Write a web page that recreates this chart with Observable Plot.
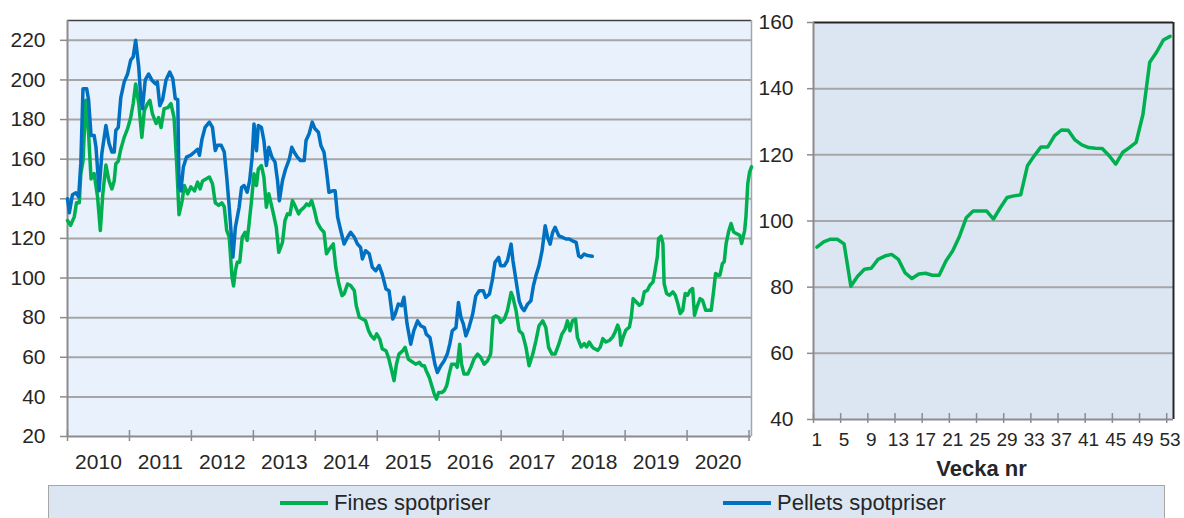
<!DOCTYPE html>
<html>
<head>
<meta charset="utf-8">
<script src="https://cdn.jsdelivr.net/npm/d3@7"></script>
<script src="https://cdn.jsdelivr.net/npm/@observablehq/plot@0.6"></script>
<style>
  html, body { margin: 0; padding: 0; background: #ffffff; }
  #wrap { position: relative; width: 1184px; height: 518px; overflow: hidden; font-family: "Liberation Sans", Arial, sans-serif; color: #262626; }
  #left { position: absolute; left: 0; top: 0; }
  #right { position: absolute; left: 755px; top: 0; }
  #legend { position: absolute; left: 48px; top: 485px; width: 1117px; height: 44px; background: #dce6f2; border: 1.5px solid #a6a6a6; box-sizing: border-box; display: flex; align-items: flex-start; }
  .item { display: flex; align-items: center; height: 34px; font-size: 22px; }
  .swatch { width: 48px; height: 4px; margin-right: 6px; }
  svg { display: block; }
</style>
</head>
<body>
<div id="wrap">
  <div id="left"></div>
  <div id="right"></div>
  <div id="legend"></div>
</div>
<script>
// ---------- data ----------
const seriesNames = ["Fines spotpriser", "Pellets spotpriser"];
const seriesColors = ["#00b050", "#0070c0"];

const fineYears = [2010.00,2010.05,2010.11,2010.145,2010.19,2010.215,2010.25,2010.295,2010.34,2010.38,2010.43,2010.485,2010.53,2010.57,2010.62,2010.67,2010.716,2010.754,2010.78,2010.82,2010.86,2010.915,2010.97,2011.02,2011.06,2011.10,2011.15,2011.20,2011.24,2011.29,2011.33,2011.37,2011.43,2011.47,2011.51,2011.56,2011.62,2011.67,2011.72,2011.76,2011.80,2011.85,2011.885,2011.94,2011.99,2012.05,2012.10,2012.14,2012.18,2012.235,2012.29,2012.34,2012.385,2012.44,2012.49,2012.53,2012.57,2012.61,2012.655,2012.68,2012.71,2012.74,2012.78,2012.82,2012.865,2012.90,2012.93,2012.97,2013.01,2013.05,2013.08,2013.13,2013.17,2013.21,2013.25,2013.30,2013.33,2013.37,2013.41,2013.47,2013.51,2013.55,2013.59,2013.63,2013.67,2013.73,2013.76,2013.82,2013.86,2013.90,2013.94,2013.98,2014.03,2014.09,2014.14,2014.18,2014.23,2014.29,2014.33,2014.38,2014.43,2014.465,2014.52,2014.57,2014.63,2014.66,2014.71,2014.76,2014.81,2014.86,2014.90,2014.95,2014.99,2015.04,2015.08,2015.14,2015.18,2015.22,2015.27,2015.31,2015.35,2015.41,2015.45,2015.50,2015.54,2015.58,2015.62,2015.68,2015.72,2015.76,2015.79,2015.84,2015.88,2015.92,2015.955,2015.99,2016.04,2016.08,2016.12,2016.16,2016.20,2016.26,2016.29,2016.33,2016.36,2016.40,2016.46,2016.51,2016.56,2016.62,2016.67,2016.725,2016.78,2016.83,2016.87,2016.91,2016.96,2016.99,2017.05,2017.10,2017.16,2017.19,2017.24,2017.29,2017.345,2017.40,2017.45,2017.51,2017.56,2017.61,2017.67,2017.72,2017.765,2017.82,2017.87,2017.93,2017.98,2018.03,2018.07,2018.11,2018.15,2018.20,2018.23,2018.29,2018.34,2018.38,2018.42,2018.47,2018.50,2018.56,2018.60,2018.64,2018.69,2018.75,2018.80,2018.84,2018.88,2018.91,2018.93,2018.97,2019.01,2019.07,2019.10,2019.13,2019.18,2019.23,2019.27,2019.31,2019.36,2019.40,2019.45,2019.48,2019.52,2019.54,2019.58,2019.61,2019.63,2019.67,2019.715,2019.77,2019.81,2019.85,2019.89,2019.93,2019.97,2020.01,2020.05,2020.09,2020.12,2020.16,2020.21,2020.25,2020.30,2020.35,2020.39,2020.43,2020.46,2020.50,2020.53,2020.57,2020.60,2020.63,2020.67,2020.71,2020.75,2020.79,2020.85,2020.88,2020.93,2020.95,2020.98,2021.01,2021.04];
const fineValues = [129,126.6,131,138,138,152.7,159,189.7,173,150,152.7,141,124,142.5,157,149,145,149,157.7,159,165,171,175.4,181,188,198,188,171,184.6,188,189.7,183,178,181,176,185.5,186,188,181,159,132,139,146.7,142.5,146,144,148.4,145,149,150,151,147.6,138,136.7,138,136,124,120.7,100.5,96,103.7,108,108,120.6,123.1,119,127.3,139.1,152.6,146.7,155.1,156.8,150.9,135.7,142.5,135.7,131.5,125.6,113,118,129,132.4,132,139.1,136.6,132.4,134,135.7,137.4,136.6,139.1,134.9,128.1,124.8,123.1,112.2,114.7,117.2,105.4,97,91.1,92,97,96.2,93.6,86.1,80.2,79.3,78.5,73.4,70.9,69.2,71.8,69.2,64.2,63.3,60,54.9,48.2,56.6,61.6,63.3,65,59.1,58.2,57.4,56.5,57.4,55.7,55.7,53.2,49.8,45.6,41.4,38.9,42.2,42.2,43.1,45.6,51.5,56.5,56.5,54.9,66.6,56.5,51.5,51.5,54.9,59.1,61.6,59.9,56.5,58.2,61.6,80.1,80.9,80.1,77.6,79.3,83.5,92.7,90.2,83.5,73.4,71.7,65,55.7,61.6,68.3,75.9,78.4,75,65,61.6,61.6,66.6,71.7,74.2,78.4,73.4,78.4,79.3,70,65.2,66.9,65.2,67.7,65.2,64.4,63.5,65.2,69.4,67.7,68.6,70.3,72.8,76.2,73.6,66.1,70.3,73.6,75.3,80.4,89.6,87.9,86.3,87.1,93,93.8,96.4,98,103.1,110.7,119.9,121.1,117.4,97.2,92.2,91.3,93,91.3,87.1,82.1,83.7,92.2,91.3,93.8,94.7,81.2,85.4,89.6,88.8,83.7,83.7,83.7,93.8,102.3,101.4,101.4,107.3,108.2,117.4,123.3,127.5,123.3,122.5,121.6,117.4,124.1,130.9,147.7,153.6,156.1];

const pelletYears = [2010.00,2010.03,2010.08,2010.135,2010.18,2010.215,2010.25,2010.31,2010.34,2010.38,2010.43,2010.46,2010.51,2010.555,2010.62,2010.67,2010.716,2010.754,2010.78,2010.82,2010.86,2010.915,2010.97,2011.02,2011.06,2011.10,2011.15,2011.185,2011.21,2011.255,2011.31,2011.36,2011.42,2011.45,2011.49,2011.535,2011.59,2011.65,2011.70,2011.74,2011.78,2011.80,2011.83,2011.87,2011.92,2011.99,2012.05,2012.10,2012.13,2012.17,2012.22,2012.29,2012.34,2012.385,2012.42,2012.48,2012.53,2012.57,2012.61,2012.67,2012.71,2012.77,2012.81,2012.85,2012.90,2012.94,2012.98,2013.01,2013.05,2013.08,2013.13,2013.17,2013.21,2013.25,2013.30,2013.35,2013.39,2013.42,2013.47,2013.52,2013.58,2013.62,2013.66,2013.71,2013.76,2013.82,2013.85,2013.90,2013.95,2013.995,2014.05,2014.09,2014.14,2014.18,2014.22,2014.28,2014.32,2014.36,2014.41,2014.465,2014.52,2014.57,2014.63,2014.68,2014.73,2014.76,2014.81,2014.87,2014.92,2014.975,2015.03,2015.08,2015.14,2015.19,2015.25,2015.29,2015.34,2015.39,2015.43,2015.48,2015.54,2015.59,2015.65,2015.70,2015.76,2015.79,2015.85,2015.89,2015.93,2015.97,2016.025,2016.08,2016.13,2016.17,2016.21,2016.27,2016.31,2016.35,2016.39,2016.43,2016.48,2016.54,2016.59,2016.645,2016.71,2016.75,2016.81,2016.86,2016.90,2016.96,2016.99,2017.05,2017.10,2017.16,2017.19,2017.24,2017.29,2017.33,2017.37,2017.425,2017.48,2017.52,2017.56,2017.61,2017.66,2017.71,2017.75,2017.79,2017.83,2017.87,2017.93,2017.99,2018.045,2018.10,2018.15,2018.21,2018.25,2018.29,2018.34,2018.38,2018.42,2018.47];
const pelletValues = [140,133,142,143,141,158,195.5,195.5,190,172,172,166,144,163,177,168,163.6,163.6,174.5,176,191,199,203,210,211.6,220,206.5,190,185.5,200,203,200,198,199,187,190,200,204,200.6,190.5,190,146,144,156,161,162,163.6,165,162,170,176,178.7,176,164.4,167,167,163.6,151,136,110.6,125.7,135.7,145.8,146.7,143.3,149.2,161,177.8,164.3,177,176,169.4,156.8,166,161,158.5,149.2,139,149.2,155,160,166,163.5,161,159.3,159.3,169.4,172.8,178.7,175.3,173.6,166.9,163.5,154.2,143.3,144,144,130.7,124,117.2,120.6,123.1,120.6,117.2,115.5,109.6,113.8,112.2,105.4,103.7,106.3,102,94.5,93.6,79.3,81.9,86.9,86,90.3,77,66.6,73.4,78.4,75.9,75,71.7,70,63.3,56.5,52.3,55.7,58.2,61.6,66.6,73.4,75,87.7,80.1,76.7,70.8,75,81.8,91,93.6,93.6,90.2,91.9,99.5,107.9,110.4,106.2,106.2,108.7,117.1,108.7,98.6,88.5,85.2,83.5,86.8,88.5,96.1,101.1,106.2,113.8,126.4,120.5,117.1,123,125.6,121.3,120.5,119.7,119.7,118.8,118,111.2,110.4,112.1,111.5,111.2,111];

const weekNumbers = d3.range(1, 54);
const weekValues = [92.1,93.7,94.5,94.5,93.1,80.3,83.3,85.4,85.7,88.4,89.4,89.9,88.4,84.3,82.6,84.0,84.2,83.6,83.6,87.9,91.0,95.4,101.0,103.0,103.0,103.0,100.6,104.0,107.1,107.6,107.9,116.7,119.7,122.4,122.4,125.8,127.5,127.4,124.5,123.0,122.2,122.0,121.9,119.8,117.2,120.7,122.2,123.8,132.2,148.0,151.0,154.7,155.8];

const leftYTicks = [20,40,60,80,100,120,140,160,180,200,220];
const yearBoundaries = [2010,2011,2012,2013,2014,2015,2016,2017,2018,2019,2020,2021];
const yearLabels = ["2010","2011","2012","2013","2014","2015","2016","2017","2018","2019","2020"];
const rightYTicks = [40,60,80,100,120,140,160];
const weekLabelTicks = [1,5,9,13,17,21,25,29,33,37,41,45,49,53];
const xAxisTitle = "Vecka nr";

// ---------- build tables ----------
const fines = fineYears.map((x, i) => ({x, y: fineValues[i]}));
const pellets = pelletYears.map((x, i) => ({x, y: pelletValues[i]}));
const weekly = weekNumbers.map((w, i) => ({w, y: weekValues[i]}));

const font = "Liberation Sans, Arial, sans-serif";
const gridColor = "#a6a6a6";
const axisColor = "#8c8c8c";
const textColor = "#262626";
const xMaxLeft = 2021.04;

const left = Plot.plot({
  width: 755, height: 480,
  marginLeft: 67, marginRight: 4, marginTop: 20, marginBottom: 44,
  x: {domain: [2010, xMaxLeft]},
  y: {domain: [20, 230]},
  style: {fontFamily: font, fontSize: "21px", color: textColor, background: "transparent", overflow: "visible"},
  marks: [
    Plot.frame({fill: "#e8f1fc", stroke: null}),
    Plot.gridY(leftYTicks.slice(1), {stroke: gridColor, strokeOpacity: 1, strokeWidth: 2}),
    Plot.ruleY([230], {stroke: "#404040", strokeWidth: 1.5}),
    Plot.ruleX([xMaxLeft], {stroke: gridColor, strokeWidth: 1.5}),
    Plot.ruleX([2010], {stroke: axisColor, strokeWidth: 2}),
    Plot.ruleY([20], {stroke: axisColor, strokeWidth: 2}),
    Plot.axisY(leftYTicks, {tickSize: 7, tickPadding: 15, stroke: axisColor, strokeWidth: 1.5, fill: textColor, label: null}),
    Plot.axisX(yearBoundaries, {tickSize: 11, dy: -6, tickFormat: () => "", stroke: axisColor, strokeWidth: 1.5, label: null}),
    Plot.axisX(yearLabels.map(s => +s + 0.5), {tickSize: 0, tickPadding: 18, tickFormat: d => String(Math.floor(d)), fill: textColor, label: null}),
    Plot.line(fines, {x: "x", y: "y", stroke: seriesColors[0], strokeWidth: 3.5, strokeLinejoin: "round"}),
    Plot.line(pellets, {x: "x", y: "y", stroke: seriesColors[1], strokeWidth: 3.5, strokeLinejoin: "round"})
  ]
});
document.getElementById("left").appendChild(left);

const right = Plot.plot({
  width: 429, height: 480,
  marginLeft: 58, marginRight: 11, marginTop: 22, marginBottom: 61,
  x: {domain: [0.5, 53.5]},
  y: {domain: [40, 160]},
  style: {fontFamily: font, fontSize: "21px", color: textColor, background: "transparent", overflow: "visible"},
  marks: [
    Plot.frame({fill: "#dce6f2", stroke: null}),
    Plot.gridY(rightYTicks.slice(1, -1), {stroke: gridColor, strokeOpacity: 1, strokeWidth: 2}),
    Plot.ruleY([160], {stroke: "#262626", strokeWidth: 2}),
    Plot.ruleX([53.5], {stroke: "#262626", strokeWidth: 2}),
    Plot.ruleX([0.5], {stroke: axisColor, strokeWidth: 2}),
    Plot.ruleY([40], {stroke: axisColor, strokeWidth: 2}),
    Plot.axisY(rightYTicks, {tickSize: 6, tickPadding: 14, stroke: axisColor, strokeWidth: 1.5, fill: textColor, label: null}),
    Plot.axisX(weekLabelTicks.map(w => w - 0.5), {tickSize: 10, dy: -6, tickFormat: () => "", stroke: axisColor, strokeWidth: 1.5, label: null}),
    Plot.axisX(weekLabelTicks, {tickSize: 0, tickPadding: 13, fontSize: 19, fill: textColor, label: null}),
    Plot.text([xAxisTitle], {frameAnchor: "bottom", dy: 56, dx: -12, fontWeight: "bold", fontSize: 22, fill: textColor}),
    Plot.line(weekly, {x: "w", y: "y", stroke: seriesColors[0], strokeWidth: 3.5, strokeLinejoin: "round"})
  ]
});
document.getElementById("right").appendChild(right);

// ---------- legend ----------
const legend = document.getElementById("legend");
const itemOffsets = ["231px", "0px"];
const itemWidths = ["443px", "auto"];
seriesNames.forEach((name, i) => {
  const item = document.createElement("div");
  item.className = "item";
  item.style.marginLeft = itemOffsets[i];
  item.style.width = itemWidths[i];
  const sw = document.createElement("span");
  sw.className = "swatch";
  sw.style.background = seriesColors[i];
  const label = document.createElement("span");
  label.textContent = name;
  item.appendChild(sw);
  item.appendChild(label);
  legend.appendChild(item);
});
</script>
</body>
</html>
